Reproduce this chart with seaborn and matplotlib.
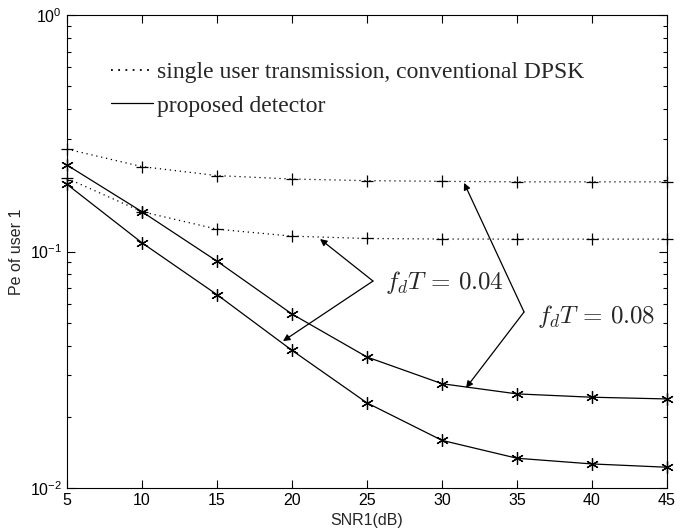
import matplotlib
matplotlib.use("Agg")
import matplotlib.pyplot as plt
from matplotlib.lines import Line2D
from matplotlib.ticker import LogLocator, NullFormatter, FixedLocator
import seaborn as sns
import pandas as pd
import numpy as np

# ---- data ----
snr = [5, 10, 15, 20, 25, 30, 35, 40, 45]
conv_008 = [0.271, 0.2285, 0.2094, 0.2025, 0.1993, 0.198, 0.197, 0.197, 0.197]
conv_004 = [0.2039, 0.1473, 0.1243, 0.1161, 0.1135, 0.1129, 0.1128, 0.1128, 0.1128]
prop_008 = [0.232, 0.1473, 0.0910, 0.0544, 0.0358, 0.0276, 0.0250, 0.0242, 0.0238]
prop_004 = [0.1923, 0.1088, 0.0657, 0.0382, 0.0229, 0.0159, 0.01336, 0.01264, 0.01224]

legend_labels = ["single user transmission, conventional DPSK", "proposed detector"]
xticks = [5, 10, 15, 20, 25, 30, 35, 40, 45]

sns.set_style("ticks")
plt.rcParams["font.family"] = ["Liberation Sans", "DejaVu Sans"]
plt.rcParams["mathtext.fontset"] = "custom"
plt.rcParams["mathtext.rm"] = "Liberation Sans"
plt.rcParams["mathtext.it"] = "Liberation Sans:italic"

fig = plt.figure(figsize=(6.89, 5.31), dpi=100)
ax = fig.add_axes([67/689, 43/531, 600/689, 473/531])

df = pd.DataFrame({"snr": snr * 4,
                   "pe": conv_008 + conv_004 + prop_008 + prop_004,
                   "series": ["c008"] * 9 + ["c004"] * 9 + ["p008"] * 9 + ["p004"] * 9})

asterisk = (6, 2, 0)
dotted = (0, (1, 3))
for key, ls, mk, ms in [("c008", dotted, "+", 8), ("c004", dotted, "+", 8),
                        ("p008", "-", asterisk, 9), ("p004", "-", asterisk, 9)]:
    sub = df[df["series"] == key]
    sns.lineplot(data=sub, x="snr", y="pe", ax=ax, color="black",
                 linestyle=ls, linewidth=0.9, marker=mk, markersize=ms,
                 markeredgewidth=0.9, markeredgecolor="black", legend=False,
                 clip_on=False)

ax.set_yscale("log")
ax.set_xlim(5, 45)
ax.set_ylim(1e-2, 1)
ax.xaxis.set_major_locator(FixedLocator(xticks))
ax.yaxis.set_major_locator(LogLocator(base=10, numticks=10))
ax.yaxis.set_minor_locator(LogLocator(base=10, subs=np.arange(2, 10), numticks=10))
ax.yaxis.set_minor_formatter(NullFormatter())
ax.tick_params(which="both", direction="in", top=True, right=True, labelsize=11.5,
               width=0.8, colors="black")
ax.tick_params(which="major", length=6)
ax.tick_params(which="minor", length=3)
for s in ax.spines.values():
    s.set_linewidth(0.8)
    s.set_color("black")

ax.set_xlabel("SNR1(dB)", fontsize=11.5)
ax.set_ylabel("Pe of user 1", fontsize=11.5)
ax.xaxis.set_label_coords(0.5, -0.052)
ax.yaxis.set_label_coords(-0.072, 0.5)

# legend
handles = [Line2D([], [], color="black", linestyle=(0, (1, 3)), linewidth=1.3),
           Line2D([], [], color="black", linestyle="-", linewidth=0.9)]
leg = ax.legend(handles, legend_labels, loc="upper left", bbox_to_anchor=(0.058, 0.922),
                frameon=False, prop={"family": "Liberation Serif", "size": 17},
                handlelength=1.75, handletextpad=0.2, labelspacing=0.52, borderaxespad=0)

# annotations
arrow = dict(arrowstyle="-|>", color="black", lw=0.9, mutation_scale=10,
             shrinkA=0, shrinkB=0)
v1 = (25.4, 0.0750)
ax.annotate("", xy=(21.87, 0.1129), xytext=v1, arrowprops=arrow)
ax.annotate("", xy=(19.4, 0.0418), xytext=v1, arrowprops=arrow)
v2 = (35.47, 0.0555)
ax.annotate("", xy=(31.47, 0.195), xytext=v2, arrowprops=arrow)
ax.annotate("", xy=(31.6, 0.0265), xytext=v2, arrowprops=arrow)

ax.text(30.13, 0.0736, r"$f_dT\,{=}\,0.04$", fontsize=18, ha="center", va="center",
        math_fontfamily="cm")
ax.text(40.27, 0.0529, r"$f_dT\,{=}\,0.08$", fontsize=18, ha="center", va="center",
        math_fontfamily="cm")

fig.savefig("out.png", dpi=100)
